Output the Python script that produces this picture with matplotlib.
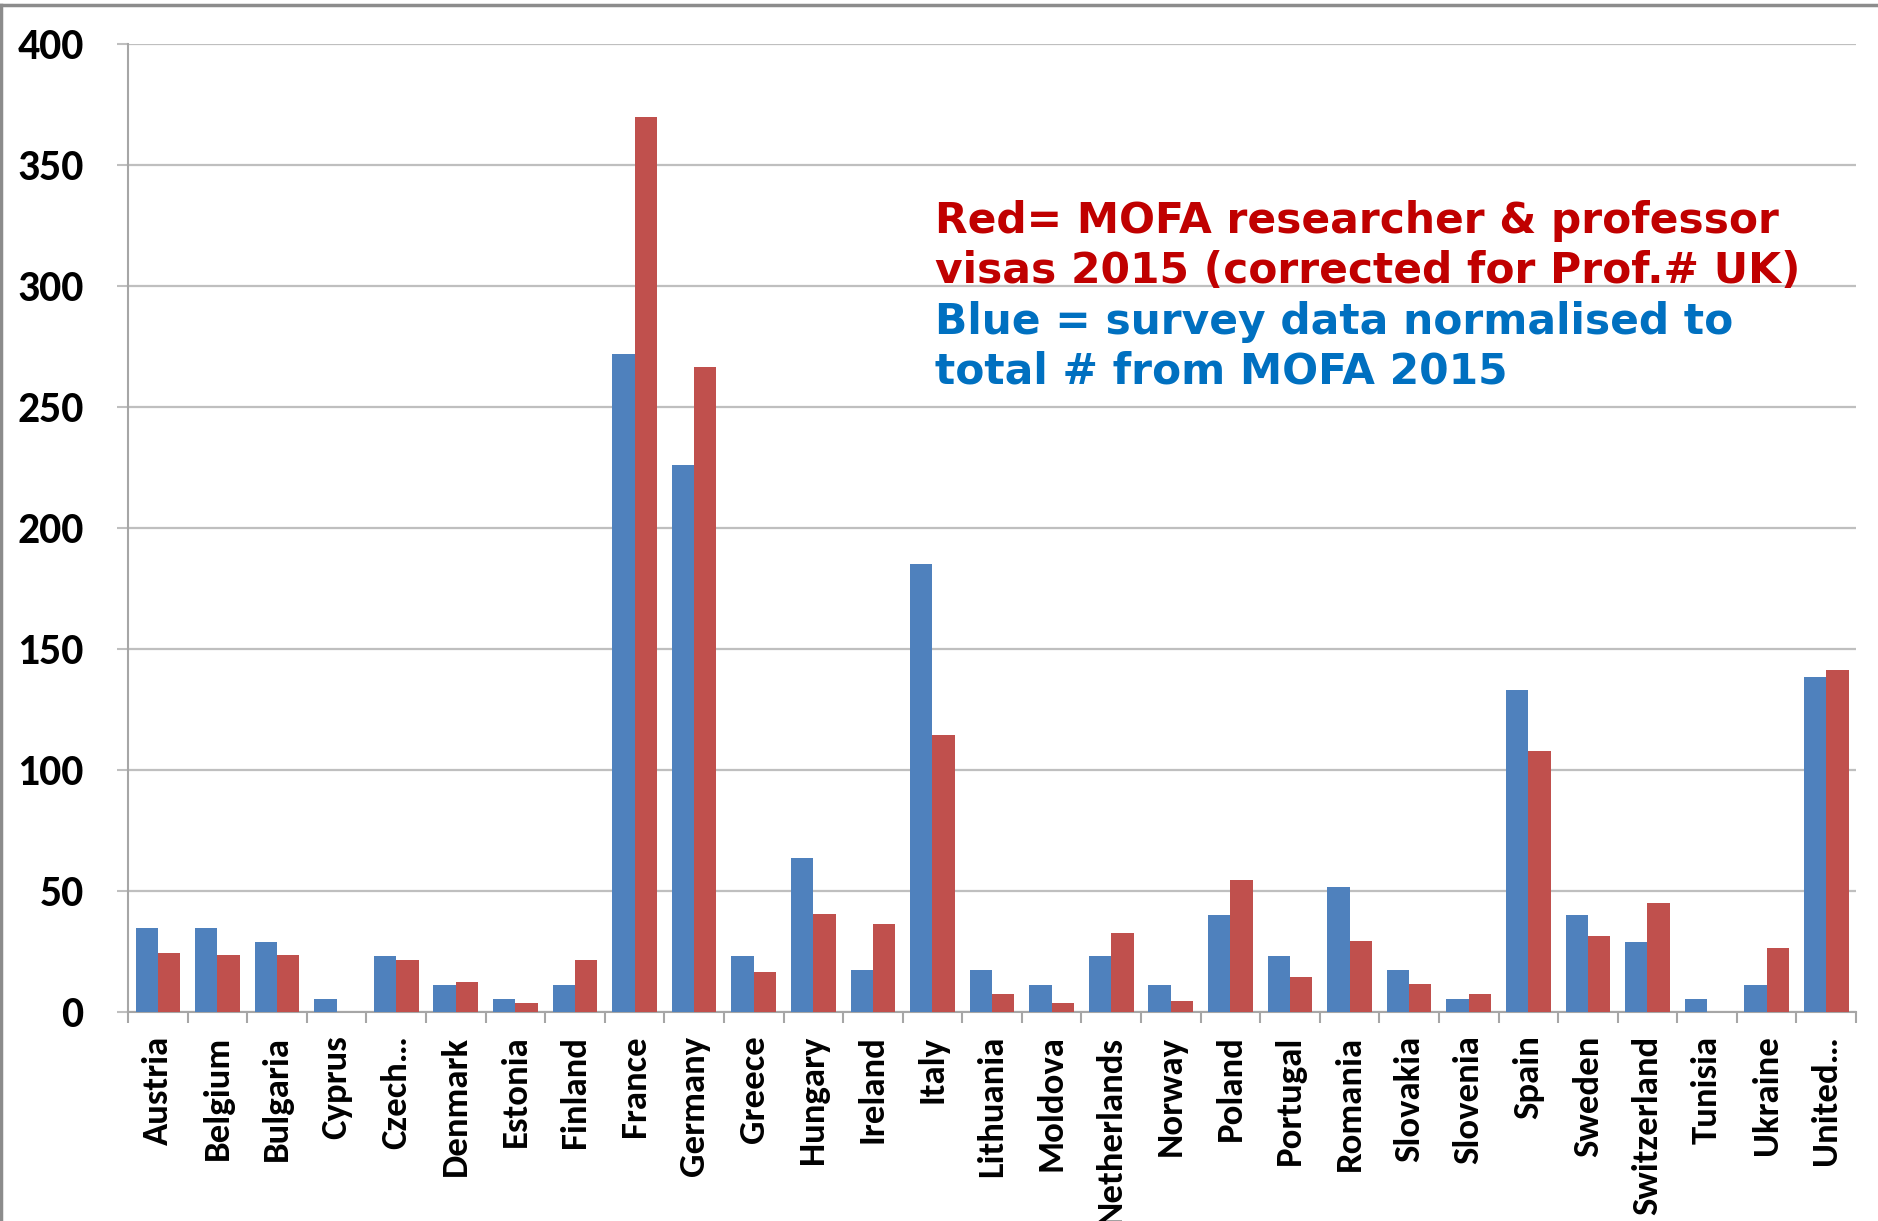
import numpy as np
import matplotlib.pyplot as plt
from matplotlib import font_manager
from matplotlib.lines import Line2D

countries = ["Austria", "Belgium", "Bulgaria", "Cyprus", "Czech…", "Denmark", "Estonia",
             "Finland", "France", "Germany", "Greece", "Hungary", "Ireland", "Italy",
             "Lithuania", "Moldova", "Netherlands", "Norway", "Poland", "Portugal",
             "Romania", "Slovakia", "Slovenia", "Spain", "Sweden", "Switzerland",
             "Tunisia", "Ukraine", "United…"]
survey = [34.5, 34.5, 29, 5.5, 23, 11, 5.5, 11, 272, 226, 23, 63.5, 17.5, 185,
          17.5, 11, 23, 11, 40, 23, 51.5, 17.5, 5.5, 133, 40, 29, 5.5, 11, 138.5]
mofa = [24.5, 23.5, 23.5, 0, 21.5, 12.5, 3.5, 21.5, 370, 266.5, 16.5, 40.5, 36.5, 114.5,
        7.5, 3.5, 32.5, 4.5, 54.5, 14.5, 29.5, 11.5, 7.5, 108, 31.5, 45, 0, 26.5, 141.5]
yticks = [0, 50, 100, 150, 200, 250, 300, 350, 400]

names = {f.name for f in font_manager.fontManager.ttflist}
lab_font = 'Carlito' if 'Carlito' in names else 'Lato'

fig = plt.figure(figsize=(18.78, 12.21), dpi=100)
ax = fig.add_axes([0.0682, 0.1712, 0.9201, 0.7928])

x = np.arange(len(countries))
w = 0.375
ax.bar(x - w/2, survey, w, color='#4F81BD', zorder=3)
ax.bar(x + w/2, mofa, w, color='#C0504D', zorder=3)

ax.set_xlim(-0.5, len(countries) - 0.5)
ax.set_ylim(0, 400)
ax.set_yticks(yticks)
ax.yaxis.grid(True, color='#BFBFBF', linewidth=1.6, zorder=0)

for s in ['top', 'right']:
    ax.spines[s].set_visible(False)
for s in ['left', 'bottom']:
    ax.spines[s].set_color('#A6A6A6')
    ax.spines[s].set_linewidth(1.5)

ax.tick_params(axis='y', length=8, width=1.5, color='#BFBFBF', pad=24)
ax.set_yticklabels([str(v) for v in yticks], fontsize=31.5, fontweight='bold', family=lab_font)

# category labels centred, tick marks on the group boundaries
ax.set_xticks(x)
ax.set_xticklabels(countries, rotation=90, fontsize=26.5, fontweight='bold', family=lab_font,
                   va='top', ha='center')
ax.tick_params(axis='x', length=0, pad=17)
ax.set_xticks(np.arange(len(countries) + 1) - 0.5, minor=True)
ax.tick_params(axis='x', which='minor', length=8, width=1.5, color='#A6A6A6')

txt = dict(transform=fig.transFigure, fontsize=30.5, fontweight='bold',
           family='DejaVu Sans', va='baseline', ha='left')
fig.text(0.498, 1 - 233/1221, "Red= MOFA researcher & professor", color='#C00000', **txt)
fig.text(0.498, 1 - 283/1221, "visas 2015 (corrected for Prof.# UK)", color='#C00000', **txt)
fig.text(0.498, 1 - 334/1221, "Blue = survey data normalised to", color='#0070C0', **txt)
fig.text(0.498, 1 - 384/1221, "total # from MOFA 2015", color='#0070C0', **txt)

# slide frame along the top and left edge
fig.add_artist(Line2D([0, 1], [1 - 5/1221, 1 - 5/1221], color='#8C8C8C', linewidth=2.5,
                      transform=fig.transFigure))
fig.add_artist(Line2D([1/1878, 1/1878], [0, 1 - 5/1221], color='#8C8C8C', linewidth=2.5,
                      transform=fig.transFigure))

fig.savefig('out.png', dpi=100)
